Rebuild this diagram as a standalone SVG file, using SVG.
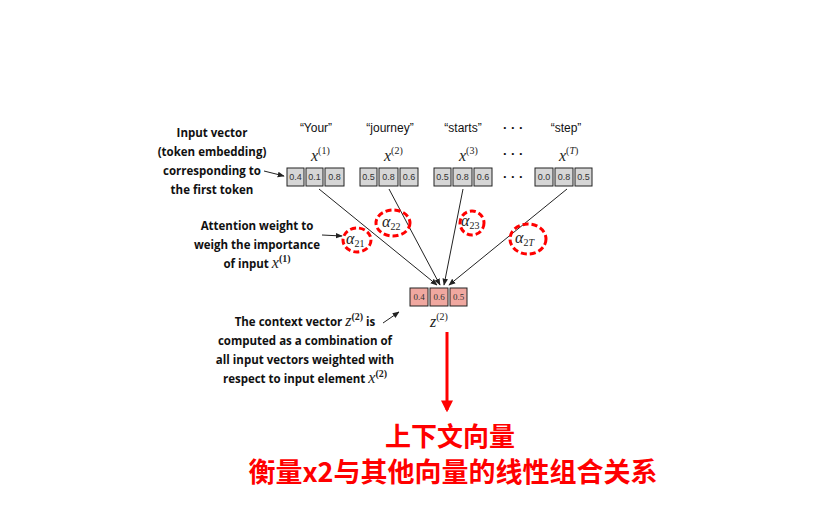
<svg xmlns="http://www.w3.org/2000/svg" width="833" height="522" viewBox="0 0 833 522">
<defs>
<marker id="ah" viewBox="0 0 10 10" refX="9" refY="5" markerWidth="7" markerHeight="7" orient="auto-start-reverse"><path d="M0,1 L10,5 L0,9 z" fill="#222"/></marker>
<marker id="rh" viewBox="0 0 10 10" refX="8" refY="5" markerWidth="4" markerHeight="4" orient="auto"><path d="M0,0 L10,5 L0,10 z" fill="#f00"/></marker>
</defs>
<style>
.lbl{font-family:"Open Sans","Liberation Sans",sans-serif;font-weight:bold;font-size:11.5px;text-anchor:middle;fill:#111}
.tok{font-family:"Liberation Sans",sans-serif;font-size:12px;text-anchor:middle;fill:#111}
.m{font-family:"Liberation Serif",serif;font-style:italic;font-size:16px;font-weight:normal;fill:#222}
.sup{font-family:"Liberation Serif",serif;font-size:10px;fill:#222;font-style:normal}
.cell{fill:#d6d6d6;stroke:#222;stroke-width:1}
.zc{fill:#f0a8a0;stroke:#222;stroke-width:1}
.ct{font-family:"Liberation Sans",sans-serif;font-size:9px;text-anchor:middle;fill:#333}
.zt{font-family:"Liberation Serif",serif;font-size:9px;text-anchor:middle;fill:#333}
.conn{stroke:#222;stroke-width:1;fill:none}
.dash{fill:none;stroke:#f00;stroke-width:3;stroke-dasharray:6 3}
.cn{font-family:"Noto Sans CJK SC",sans-serif;font-weight:bold;fill:#f00;text-anchor:middle}
.dots{font-family:"Liberation Sans",sans-serif;font-weight:bold;font-size:13px;fill:#111}
</style>
<rect width="833" height="522" fill="#fff"/>
<g id="label-input">
<text class="lbl" x="212" y="137">Input vector</text>
<text class="lbl" x="212" y="156">(token embedding)</text>
<text class="lbl" x="212" y="175">corresponding to</text>
<text class="lbl" x="212" y="194">the first token</text>
</g>
<g id="label-attn">
<text class="lbl" x="257" y="230">Attention weight to</text>
<text class="lbl" x="257" y="249">weigh the importance</text>
<text class="lbl" x="257" y="268">of input <tspan class="m">x</tspan><tspan class="sup" dy="-6">(1)</tspan></text>
</g>
<g id="label-context">
<text class="lbl" x="305" y="326">The context vector <tspan class="m">z</tspan><tspan class="sup" dy="-6">(2)</tspan><tspan dy="6"> is</tspan></text>
<text class="lbl" x="305" y="345">computed as a combination of</text>
<text class="lbl" x="305" y="364">all input vectors weighted with</text>
<text class="lbl" x="305" y="383">respect to input element <tspan class="m">x</tspan><tspan class="sup" dy="-6">(2)</tspan></text>
</g>
<g id="tokens">
<text class="tok" x="316" y="132">“Your”</text>
<text class="tok" x="390" y="132">“journey”</text>
<text class="tok" x="463" y="132">“starts”</text>
<text class="tok" x="566" y="132">“step”</text>
<text class="dots" x="503" y="132">· · ·</text>
<text class="dots" x="503" y="158">· · ·</text>
<text class="dots" x="503" y="181">· · ·</text>
<text class="m" x="311" y="161">x<tspan class="sup" dy="-7">(1)</tspan></text>
<text class="m" x="384" y="161">x<tspan class="sup" dy="-7">(2)</tspan></text>
<text class="m" x="459" y="161">x<tspan class="sup" dy="-7">(3)</tspan></text>
<text class="m" x="559" y="161">x<tspan class="sup" dy="-7">(<tspan font-style="italic">T</tspan>)</tspan></text>
</g>
<g id="vec1">
<rect class="cell" x="287" y="168" width="17" height="18"/><rect class="cell" x="306" y="168" width="17" height="18"/><rect class="cell" x="325" y="168" width="19" height="18"/>
<text class="ct" x="295.5" y="180">0.4</text><text class="ct" x="314.5" y="180">0.1</text><text class="ct" x="334.5" y="180">0.8</text>
</g>
<g id="vec2">
<rect class="cell" x="360" y="168" width="17" height="18"/><rect class="cell" x="379" y="168" width="19" height="18"/><rect class="cell" x="400" y="168" width="18" height="18"/>
<text class="ct" x="368.5" y="180">0.5</text><text class="ct" x="388.5" y="180">0.8</text><text class="ct" x="409" y="180">0.6</text>
</g>
<g id="vec3">
<rect class="cell" x="434" y="168" width="17" height="18"/><rect class="cell" x="453" y="168" width="19" height="18"/><rect class="cell" x="474" y="168" width="18" height="18"/>
<text class="ct" x="442.5" y="180">0.5</text><text class="ct" x="462.5" y="180">0.8</text><text class="ct" x="483" y="180">0.6</text>
</g>
<g id="vecT">
<rect class="cell" x="535" y="168" width="18" height="18"/><rect class="cell" x="555" y="168" width="18" height="18"/><rect class="cell" x="575" y="168" width="17" height="18"/>
<text class="ct" x="544" y="180">0.0</text><text class="ct" x="564" y="180">0.8</text><text class="ct" x="583.5" y="180">0.5</text>
</g>
<g id="context">
<rect class="zc" x="410" y="288" width="18" height="18"/><rect class="zc" x="430" y="288" width="18" height="18"/><rect class="zc" x="450" y="288" width="17" height="18"/>
<text class="zt" x="419" y="300">0.4</text><text class="zt" x="439" y="300">0.6</text><text class="zt" x="458.5" y="300">0.5</text>
<text class="m" x="430" y="327">z<tspan class="sup" dy="-7">(2)</tspan></text>
</g>
<g id="connectors">
<line class="conn" x1="319" y1="189" x2="437" y2="285" marker-end="url(#ah)"/>
<line class="conn" x1="389" y1="189" x2="440" y2="285" marker-end="url(#ah)"/>
<line class="conn" x1="463" y1="189" x2="444" y2="285" marker-end="url(#ah)"/>
<line class="conn" x1="567" y1="189" x2="449" y2="285" marker-end="url(#ah)"/>
<line class="conn" x1="264" y1="171" x2="284" y2="176" marker-end="url(#ah)"/>
<line class="conn" x1="322" y1="235" x2="342" y2="236" marker-end="url(#ah)"/>
<line class="conn" x1="383" y1="323" x2="399" y2="312" marker-end="url(#ah)"/>
<line x1="447" y1="332" x2="447" y2="410" stroke="#f00" stroke-width="3" marker-end="url(#rh)"/>
</g>
<g id="weights">
<ellipse class="dash" cx="357" cy="240" rx="14" ry="12"/>
<text class="m" x="346" y="244">α<tspan class="sup" dy="3">21</tspan></text>
<ellipse class="dash" cx="393" cy="223" rx="17" ry="13"/>
<text class="m" x="382" y="227">α<tspan class="sup" dy="3">22</tspan></text>
<ellipse class="dash" cx="472" cy="223" rx="12" ry="12"/>
<text class="m" x="461" y="226">α<tspan class="sup" dy="3">23</tspan></text>
<ellipse class="dash" cx="528" cy="239" rx="18" ry="15"/>
<text class="m" x="515" y="243">α<tspan class="sup" dy="3">2<tspan font-style="italic">T</tspan></tspan></text>
</g>
<g id="caption">
<text class="cn" x="450" y="446" font-size="26">上下文向量</text>
<text class="cn" x="453" y="482" font-size="27">衡量x2与其他向量的线性组合关系</text>
</g>
</svg>
